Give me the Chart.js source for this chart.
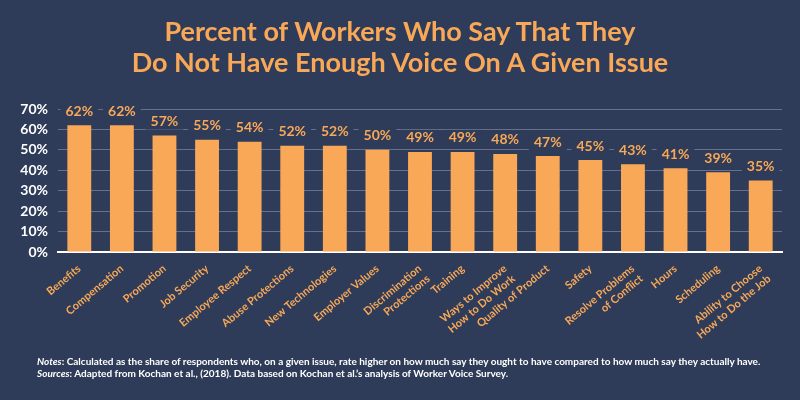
<!DOCTYPE html>
<html>
<head>
<meta charset="utf-8">
<script src="https://cdn.jsdelivr.net/npm/chart.js@4"></script>
<style>
  html, body { margin: 0; padding: 0; background: #2e3c59; }
  #wrap { position: relative; width: 800px; height: 400px; }
  #title {
    position: absolute; top: 15px; left: 0; width: 800px; text-align: center;
    color: #f9a857; font: bold 27px Lato, "Open Sans", sans-serif; line-height: 31px;
  }
  #notes {
    position: absolute; top: 355px; left: 37px; width: 760px; white-space: nowrap;
    color: #ffffff; font: bold 10px Lato, sans-serif; line-height: 12px; letter-spacing: 0px;
  }
  #notes i { font-style: italic; }
</style>
</head>
<body>
<div id="wrap">
  <canvas id="chart" width="800" height="400"></canvas>
  <div id="title">Percent of Workers Who Say That They<br>Do Not Have Enough Voice On A Given Issue</div>
  <div id="notes">
    <i>Notes</i>: Calculated as the share of respondents who, on a given issue, rate higher on how much say they ought to have compared to how much say they actually have.<br>
    <i>Sources</i>: Adapted from Kochan et al., (2018). Data based on Kochan et al.’s analysis of Worker Voice Survey.
  </div>
</div>
<script>
const issues = [
  'Benefits', 'Compensation', 'Promotion', 'Job Security', 'Employee Respect',
  'Abuse Protections', 'New Technologies', 'Employer Values',
  ['Discrimination', 'Protections'], 'Training', ['Ways to Improve', 'How to Do Work'],
  'Quality of Product', 'Safety', ['Resolve Problems', 'of Conflict'], 'Hours',
  'Scheduling', ['Ability to Choose', 'How to Do the Job']
]
const percents = [62, 62, 57, 55, 54, 52, 52, 50, 49, 49, 48, 47, 45, 43, 41, 39, 35]
const yTicks = [0, 10, 20, 30, 40, 50, 60, 70]

const bg = '#2e3c59'
const orange = '#f9a857'

const valueLabels = {
  id: 'valueLabels',
  afterDatasetsDraw(chart) {
    const ctx = chart.ctx
    const meta = chart.getDatasetMeta(0)
    ctx.save()
    ctx.font = 'bold 14px Lato, "Open Sans", sans-serif'
    ctx.textAlign = 'center'
    ctx.textBaseline = 'middle'
    meta.data.forEach((bar, i) => {
      const text = percents[i] + '%'
      const w = ctx.measureText(text).width
      const y = bar.y - 14
      ctx.fillStyle = bg
      ctx.fillRect(bar.x - w / 2 - 5, y - 8, w + 10, 16)
      ctx.fillStyle = orange
      ctx.fillText(text, bar.x, y)
    })
    ctx.restore()
  }
}

new Chart(document.getElementById('chart'), {
  type: 'bar',
  data: {
    labels: issues,
    datasets: [{
      data: percents,
      backgroundColor: orange,
      categoryPercentage: 1,
      barPercentage: 0.56
    }]
  },
  options: {
    responsive: false,
    animation: false,
    layout: { padding: { top: 109, right: 18, left: 0, bottom: 0 } },
    plugins: { legend: { display: false }, tooltip: { enabled: false } },
    scales: {
      x: {
        grid: { display: false },
        border: { color: '#ffffff', width: 2 },
        ticks: {
          color: orange,
          font: { family: 'Lato, "Open Sans", sans-serif', size: 11, weight: 'bold' },
          minRotation: 40,
          maxRotation: 40,
          autoSkip: false,
          padding: 2
        },
        afterFit(scale) { scale.height = 148 }
      },
      y: {
        min: 0,
        max: 70,
        afterBuildTicks(scale) { scale.ticks = yTicks.map(v => ({ value: v })) },
        grid: { color: '#66708c', drawTicks: false },
        border: { display: false },
        ticks: {
          color: '#ffffff',
          font: { family: 'Lato, "Open Sans", sans-serif', size: 14, weight: 'bold' },
          padding: 10,
          callback: v => v + '%'
        },
        afterFit(scale) { scale.width = 58 }
      }
    }
  },
  plugins: [valueLabels]
})
</script>
</body>
</html>
